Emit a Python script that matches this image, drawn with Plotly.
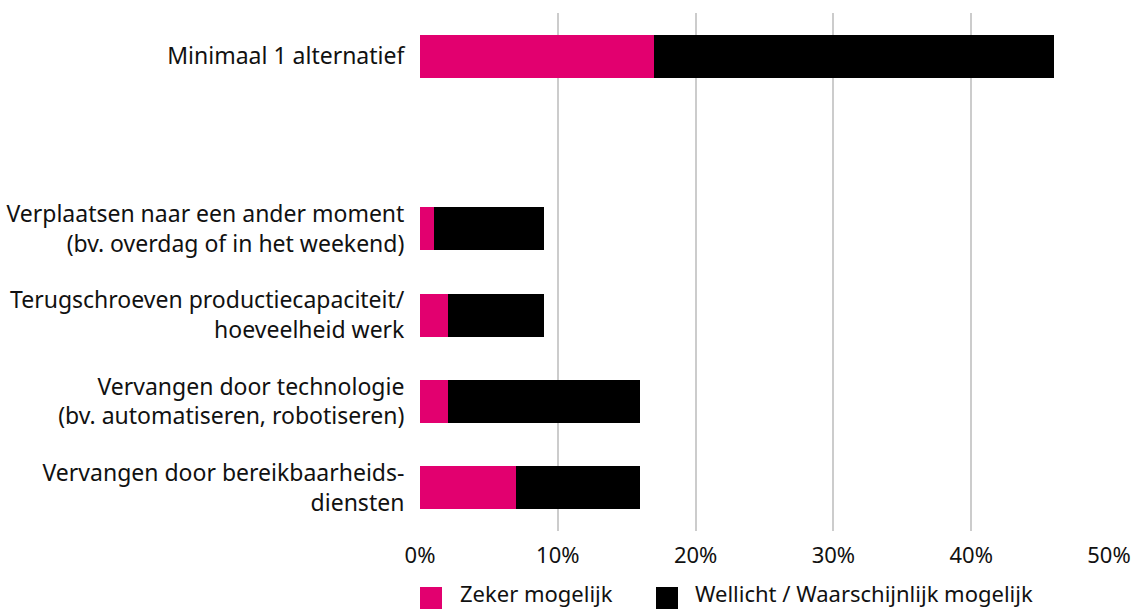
import plotly.graph_objects as go

# Categories from bottom to top (" " is the empty spacer row)
categories = [
    "Vervangen door bereikbaarheids-<br>diensten",
    "Vervangen door technologie<br>(bv. automatiseren, robotiseren)",
    "Terugschroeven productiecapaciteit/<br>hoeveelheid werk",
    "Verplaatsen naar een ander moment<br>(bv. overdag of in het weekend)",
    " ",
    "Minimaal 1 alternatief",
]
zeker = [7, 2, 2, 1, None, 17]
wellicht = [9, 14, 7, 8, None, 29]

series_names = ["Zeker mogelijk", "Wellicht / Waarschijnlijk mogelijk"]
colors = ["#E2006F", "#000000"]

x_ticks = [0, 10, 20, 30, 40, 50]
x_ticktext = ["0%", "10%", "20%", "30%", "40%", "50%"]

FONT = "Noto Sans"
W, H = 1136, 609
ML, MR, MT, MB = 420, 27, 13, 78

fig = go.Figure()
for name, vals, col in zip(series_names, [zeker, wellicht], colors):
    fig.add_trace(go.Bar(
        y=categories, x=vals, name=name, orientation="h",
        marker=dict(color=col, line=dict(width=0)),
        width=0.5, showlegend=False,
    ))

fig.update_layout(
    width=W, height=H,
    margin=dict(l=ML, r=MR, t=MT, b=MB, autoexpand=False),
    barmode="stack",
    plot_bgcolor="white", paper_bgcolor="white",
    font=dict(family=FONT, size=22, color="#111111"),
    xaxis=dict(
        range=[0, 50], tickvals=x_ticks, ticktext=x_ticktext,
        showgrid=True, gridcolor="#cccccc", gridwidth=2,
        zeroline=False, showline=False, automargin=False,
        ticks="outside", ticklen=5, tickcolor="rgba(0,0,0,0)",
        tickfont=dict(size=22, family=FONT),
    ),
    yaxis=dict(
        categoryorder="array", categoryarray=categories,
        range=[-0.5, 5.5], automargin=False,
        showgrid=False, zeroline=False, showline=False,
        ticks="outside", ticklen=10, tickcolor="rgba(0,0,0,0)",
        tickfont=dict(size=23, family=FONT),
    ),
)

# Legend drawn as squares + text below the axis
pw = W - ML - MR
ph = H - MT - MB
def px_x(px):
    return (px - ML) / pw
def px_y(py):
    return (H - MB - py) / ph

legend_items = [(420, 458), (656, 693)]
for (sx, tx), name, col in zip(legend_items, series_names, colors):
    fig.add_shape(type="rect", xref="paper", yref="paper",
                  x0=px_x(sx), x1=px_x(sx + 22), y0=px_y(609), y1=px_y(587),
                  fillcolor=col, line=dict(width=0), layer="above")
    fig.add_annotation(text=name, xref="paper", yref="paper",
                       x=px_x(tx), y=px_y(593), xanchor="left", yanchor="middle",
                       showarrow=False, font=dict(size=22, family=FONT, color="#111111"))

fig.write_html("out.html",
               config={"displayModeBar": False},
               post_script="document.body.style.margin='0';document.body.style.overflow='hidden';")
